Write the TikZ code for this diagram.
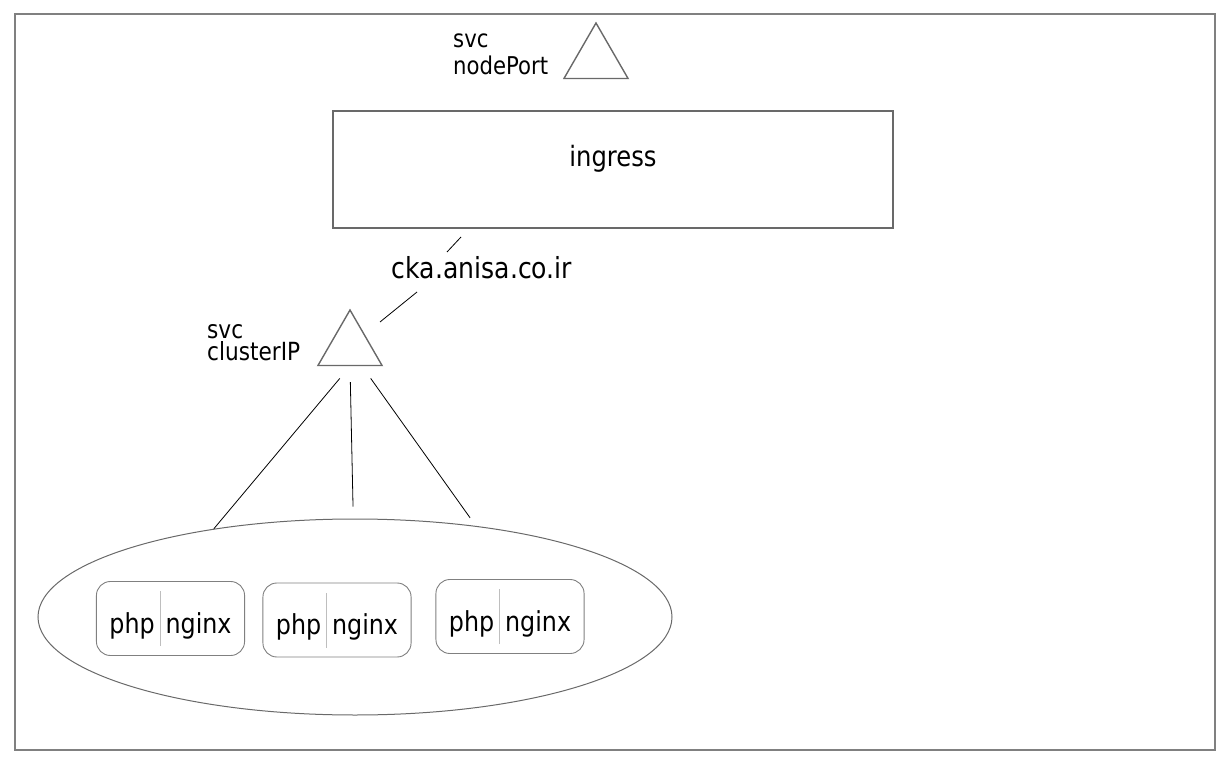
\documentclass[tikz,border=0pt]{standalone}
\usepackage{fontspec}
\setmainfont{DejaVu Sans}[FakeStretch=0.866]
\usetikzlibrary{shapes.geometric,positioning}

\definecolor{edgegray}{RGB}{105,105,105}
\definecolor{framegray}{RGB}{128,128,128}
\definecolor{splitgray}{RGB}{190,190,190}

\tikzset{
  svc/.style={draw=edgegray, line width=1.4pt, regular polygon, regular polygon sides=3,
    minimum size=74pt, inner sep=0pt},
  svclabel/.style={align=left, inner sep=0pt, anchor=south west},
  ingressbox/.style={draw=edgegray, line width=1.3pt, minimum width=560pt, minimum height=117pt,
    font=\fontsize{28}{32}\selectfont, text height=21pt, text depth=27pt},
  podgroup/.style={draw=edgegray, line width=1pt, ellipse, minimum width=634pt,
    minimum height=196pt, inner sep=0pt},
  podbox/.style={draw=framegray, line width=0.9pt, rounded corners=14pt, inner xsep=13pt,
    inner ysep=9.5pt, font=\fontsize{27.5}{30}\selectfont},
  link/.style={draw=black, line width=0.8pt}
}

% one pod: php and nginx side by side
\newcommand{\phpnginx}{php\hspace{5pt}\textcolor{splitgray}{\rule[-13pt]{0.8pt}{55pt}}\hspace{5pt}nginx}

\begin{document}
\begin{tikzpicture}[x=1pt, y=-1pt]

\useasboundingbox (0,0) rectangle (1232,762);
\draw[framegray, line width=1.6pt] (15,14) rectangle (1215,750);

%Declare nodes.
\node[svc] (nodeport) at (596,60) {};
\node[svclabel, font=\fontsize{24.5}{27}\selectfont] (nodeportlabel) at (453,75) {svc\\nodePort};
\node[ingressbox] (ingress) at (613,169.5) {ingress};
\node[font=\fontsize{29}{32}\selectfont] (host) at (482,268) {cka.anisa.co.ir};
\node[svc] (clusterip) at (350,347) {};
\node[svclabel, font=\fontsize{25}{21.5}\selectfont] (clusteriplabel) at (207,361) {svc\\clusterIP};

\node[podgroup] (pods) at (355,617) {};
\node[podbox] (pod1) at (170.5,618.5) {\phpnginx};
\node[podbox] (pod2) at (337,620) {\phpnginx};
\node[podbox] (pod3) at (510,616.5) {\phpnginx};

%Setup edges.
\coordinate (ingress-out) at (461,237);
\coordinate (host-in) at (447,252);
\coordinate (host-out) at (417,292);
\coordinate (clusterip-in) at (380,322);
\draw[link] (ingress-out) -- (host-in);
\draw[link] (host-out) -- (clusterip-in);

\draw[link, shorten <=16pt] (clusterip.south) -- (pods.148.3);
\draw[link, shorten <=16pt, shorten >=12pt] (clusterip.south) -- (pods.91);
\draw[link, shorten <=15pt, shorten >=10pt] ([xshift=12pt]clusterip.south) -- (pods.37.9);

\end{tikzpicture}
\end{document}
